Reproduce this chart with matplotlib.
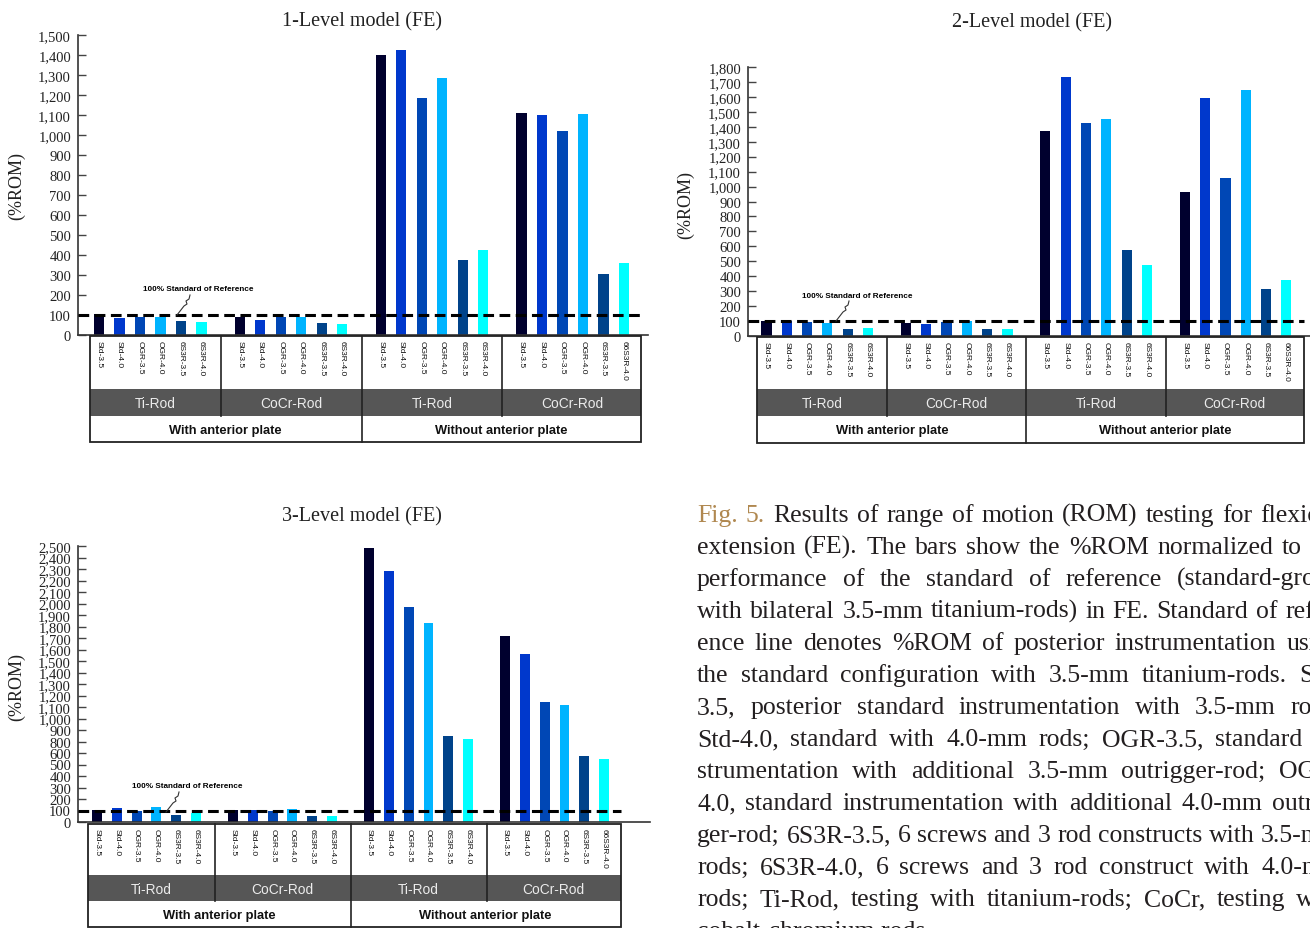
import numpy as np
import matplotlib
matplotlib.use('Agg')
import matplotlib.pyplot as plt
from matplotlib import font_manager
from matplotlib.font_manager import FontProperties
from matplotlib.patches import Rectangle
from matplotlib.lines import Line2D

W, H = 1310, 929

configs = ['Std-3.5', 'Std-4.0', 'OGR-3.5', 'OGR-4.0', '6S3R-3.5', '6S3R-4.0']
# the last CoCr group is labelled "66S3R-4.0" in the original figure
configs_last = ['Std-3.5', 'Std-4.0', 'OGR-3.5', 'OGR-4.0', '6S3R-3.5', '66S3R-4.0']
rods = ['Ti-Rod', 'CoCr-Rod', 'Ti-Rod', 'CoCr-Rod']
plates = ['With anterior plate', 'Without anterior plate']
bar_colors = ['#00002e', '#0038cc', '#0047b5', '#00b4ff', '#00438a', '#00ffff']
ref_value = 100

# %ROM per group: with plate Ti, with plate CoCr, without plate Ti, without plate CoCr
rom_1level = [
    [103, 83, 88, 90, 68, 65],
    [92, 77, 90, 90, 58, 55],
    [1398, 1427, 1187, 1283, 375, 425],
    [1112, 1102, 1020, 1103, 307, 358],
]
rom_2level = [
    [98, 98, 94, 87, 45, 54],
    [85, 80, 94, 98, 49, 49],
    [1372, 1734, 1426, 1449, 578, 475],
    [964, 1594, 1054, 1647, 312, 373],
]
rom_3level = [
    [106, 127, 100, 136, 63, 85],
    [106, 106, 97, 121, 57, 57],
    [2485, 2277, 1944, 1800, 776, 755],
    [1682, 1525, 1087, 1060, 598, 571],
]

ticks_1 = list(range(0, 1501, 100))
ticks_2 = list(range(0, 1801, 100))
# the 3-level axis skips "700" in the original, labels are spread evenly
labels_3 = [0, 100, 200, 300, 400, 500, 600] + list(range(800, 2501, 100))

caption_head = 'Fig. 5.'
caption = [
    'Results of range of motion (ROM) testing for flexion-',
    'extension (FE). The bars show the %ROM normalized to the',
    'performance of the standard of reference (standard-group',
    'with bilateral 3.5-mm titanium-rods) in FE. Standard of refer-',
    'ence line denotes %ROM of posterior instrumentation using',
    'the standard configuration with 3.5-mm titanium-rods. Std-',
    '3.5, posterior standard instrumentation with 3.5-mm rods;',
    'Std-4.0, standard with 4.0-mm rods; OGR-3.5, standard in-',
    'strumentation with additional 3.5-mm outrigger-rod; OGR-',
    '4.0, standard instrumentation with additional 4.0-mm outrig-',
    'ger-rod; 6S3R-3.5, 6 screws and 3 rod constructs with 3.5-mm',
    'rods; 6S3R-4.0, 6 screws and 3 rod construct with 4.0-mm',
    'rods; Ti-Rod, testing with titanium-rods; CoCr, testing with',
    'cobalt-chromium rods.',
]

installed = {f.name for f in font_manager.fontManager.ttflist}
if 'Liberation Sans Narrow' in installed:
    narrow, k = 'Liberation Sans Narrow', 1.0
else:
    narrow, k = 'Liberation Sans', 0.84
serif = 'Liberation Serif'

fig = plt.figure(figsize=(W / 100, H / 100), dpi=100)
fig.patch.set_facecolor('white')

STEP = 6.87   # group spacing in bar slots


def fx(px):
    return px / W


def fy(py):
    return 1 - py / H


def draw_panel(title, values, ymax, ticks, ticklabels, box, tbl, first_bar, slot,
               title_xy, ylab_xy, note_xy):
    left, top, right, bottom = box
    ax = fig.add_axes([fx(left), fy(bottom), (right - left) / W, (bottom - top) / H])
    xlo = -(first_bar - left) / slot
    xhi = xlo + (right - left) / slot
    n = len(configs)
    for g, vals in enumerate(values):
        xs = g * STEP + np.arange(n)
        ax.bar(xs, vals, width=0.5, color=bar_colors, zorder=2)
    tl = -0.45
    tr = 3 * STEP + n - 1 + 0.85
    ax.hlines(ref_value, xlo, tr, colors='black', linestyles=(0, (3.5, 1.8)),
              lw=2.2, zorder=3, clip_on=False)
    ax.set_xlim(xlo, xhi)
    ax.set_ylim(0, ymax)
    ax.set_xticks([])
    ax.set_yticks(ticks)
    ax.set_yticklabels([f'{v:,}' for v in ticklabels], family=serif, fontsize=10.5,
                       color='#222222')
    ax.tick_params(axis='y', direction='in', length=6, width=1, color='#444444', pad=5)
    for s in ['top', 'right']:
        ax.spines[s].set_visible(False)
    for s in ['left', 'bottom']:
        ax.spines[s].set_color('#333333')
        ax.spines[s].set_linewidth(1.2)

    fig.text(fx(title_xy[0]), fy(title_xy[1]), title, family=serif, fontsize=14.5,
             ha='center', va='center', color='#222222')
    fig.text(fx(ylab_xy[0]), fy(ylab_xy[1]), '(%ROM)', family=serif, fontsize=13,
             rotation=90, ha='center', va='center', color='#222222')

    # reference note and its squiggly leader
    nx, ny = note_xy
    fig.text(fx(nx), fy(ny), '100% Standard of Reference', family=narrow,
             fontsize=7 * k, weight='bold', ha='center', va='center')
    wig = [(-8, 6), (-9, 10), (-12, 12), (-11, 15), (-14, 17), (-21, 26)]
    fig.add_artist(Line2D([fx(nx + a) for a, b in wig], [fy(ny + b) for a, b in wig],
                          color='#333333', lw=0.8))

    # category table below the axis
    ttop, b1, b2, tbot = tbl
    tax = fig.add_axes([fx(left), fy(tbot), (right - left) / W, (tbot - ttop) / H])
    tax.set_xlim(xlo, xhi)
    h1, h2, h3 = b1 - ttop, b2 - ttop, tbot - ttop
    tax.set_ylim(h3, 0)
    tax.axis('off')
    tax.add_patch(Rectangle((tl, h1), tr - tl, h2 - h1, facecolor='#565656',
                            edgecolor='none'))
    tax.add_patch(Rectangle((tl, 0), tr - tl, h3, fill=False, edgecolor='#222222',
                            lw=1.3, clip_on=False))
    divs = [g * STEP + n - 1 + (STEP - (n - 1)) / 2 for g in range(3)]
    for i, d in enumerate(divs):
        tax.plot([d, d], [0, h3 if i == 1 else h2], color='#222222', lw=1.2,
                 clip_on=False)
    for g in range(4):
        labs = configs_last if g == 3 else configs
        for i, lab in enumerate(labs):
            tax.text(g * STEP + i, 4, lab, rotation=270, ha='center', va='top',
                     family=narrow, fontsize=7.2 * k, color='#111111')
    edges = [tl] + divs + [tr]
    for g in range(4):
        tax.text((edges[g] + edges[g + 1]) / 2, (h1 + h2) / 2 + 1, rods[g], ha='center',
                 va='center', family=narrow, fontsize=11.8 * k, color='#ececec')
    pedges = [tl, divs[1], tr]
    for p in range(2):
        tax.text((pedges[p] + pedges[p + 1]) / 2, (h2 + h3) / 2 + 1, plates[p],
                 ha='center', va='center', family=narrow, fontsize=11 * k,
                 weight='bold', color='#111111')
    return ax


draw_panel('1-Level model (FE)', rom_1level, 1500, ticks_1, ticks_1,
           (78, 36, 648, 336), (337, 390, 417, 443), 99, 20.5,
           (362, 22), (17, 186), (198, 290))
draw_panel('2-Level model (FE)', rom_2level, 1800, ticks_2, ticks_2,
           (748, 68, 1310, 337), (338, 390, 417, 444), 766.5, 20.3,
           (1032, 23), (686, 205), (857, 296))
draw_panel('3-Level model (FE)', rom_3level, 2500, np.linspace(0, 2500, len(labels_3)),
           labels_3, (78, 547, 650, 823), (825, 876, 902, 928), 97, 19.8,
           (362, 517), (17, 687), (187, 787))

# caption, justified to a column that runs past the right edge of the page
cap_x, cap_y, lead, col_w = 697, 522, 32, 645
prop = FontProperties(family=serif, size=18.5)
renderer = fig.canvas.get_renderer()


def word_w(w):
    return renderer.get_text_width_height_descent(w, prop, ismath=False)[0]


for i, line in enumerate(caption):
    words = [(w, '#231f20') for w in line.split(' ')]
    if i == 0:
        words = [(w, '#b08850') for w in caption_head.split(' ')] + words
    y = fy(cap_y + i * lead)
    if i == len(caption) - 1:
        fig.text(fx(cap_x), y, line, fontproperties=prop, color='#231f20',
                 va='baseline')
        continue
    widths = [word_w(w) for w, c in words]
    gap = max((col_w - sum(widths)) / (len(words) - 1), word_w('a a') - 2 * word_w('a'))
    x = cap_x
    for (w, c), ww in zip(words, widths):
        fig.text(fx(x), y, w, fontproperties=prop, color=c, va='baseline')
        x += ww + gap

fig.savefig('out.png', dpi=100)
